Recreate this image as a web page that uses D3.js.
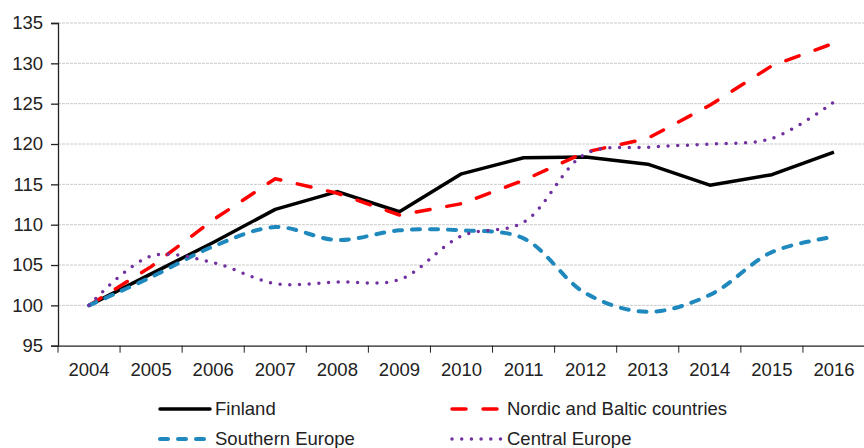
<!DOCTYPE html>
<html lang="en">
<head>
    <meta charset="UTF-8">
    <title>Index 2004 = 100</title>
    <script src="https://cdn.jsdelivr.net/npm/d3@7"></script>
    <style>
        body { margin: 0; background: #fff; }
        text { font-family: "Liberation Sans", Arial, sans-serif; fill: #222; }
    </style>
</head>
<body>

<script>
    var width = 864;
    var height = 448;

    // values, 2004 = 100
    var years = ["2004", "2005", "2006", "2007", "2008", "2009", "2010",
        "2011", "2012", "2013", "2014", "2015", "2016"];
    var finland = [100, 103.9, 107.8, 111.9, 114.1, 111.6, 116.3, 118.3, 118.4, 117.5, 114.9, 116.2, 119.0];
    var nordic = [100, 104.8, 110.6, 115.7, 113.9, 111.2, 112.6, 115.5, 119.0, 120.7, 124.8, 129.7, 132.5];
    var southern = [100, 103.5, 107.3, 109.7, 108.1, 109.3, 109.3, 108.3, 101.5, 99.2, 101.3, 106.6, 108.5];
    var central = [100, 106.1, 105.3, 102.7, 102.9, 103.2, 108.6, 110.3, 118.8, 119.6, 120.0, 120.7, 125.2];
    var yTicks = [95, 100, 105, 110, 115, 120, 125, 130, 135];

    var series = [
        {name: "Finland", values: finland, color: "#000000", width: 3.5, dash: null, smooth: false},
        {name: "Nordic and Baltic countries", values: nordic, color: "#ff0000", width: 3.5, dash: "14,17", smooth: false},
        {name: "Southern Europe", values: southern, color: "#1f88bd", width: 4, dash: "8,10", smooth: true},
        {name: "Central Europe", values: central, color: "#7030a0", width: 3.5, dash: "0,9.7", smooth: true}
    ];

    var svg = d3.select("body").append("svg")
            .attr("width", width)
            .attr("height", height);

    var x = d3.scaleBand().domain(years).range([58, 865]);
    var y = d3.scaleLinear().domain([95, 135]).range([345.7, 23]);

    // gridlines
    svg.append("g").selectAll("line")
            .data(yTicks.slice(1))
            .enter().append("line")
            .attr("x1", 58).attr("x2", width)
            .attr("y1", function (d) { return y(d); })
            .attr("y2", function (d) { return y(d); })
            .style("stroke", "#cacaca")
            .style("stroke-width", 1)
            .style("stroke-dasharray", "3,1");

    // y axis
    var yAxis = svg.append("g")
            .attr("transform", "translate(58,0)")
            .call(d3.axisLeft(y).tickValues(yTicks).tickSize(7).tickPadding(8));
    yAxis.selectAll("text").style("font-size", "18.5px");

    // x axis, ticks sit between the years
    var xAxis = svg.append("g")
            .attr("transform", "translate(0," + y(95) + ")")
            .call(d3.axisBottom(x).tickSize(0).tickPadding(17));
    xAxis.selectAll("text").style("font-size", "18.5px");
    xAxis.selectAll(".bound")
            .data(years)
            .enter().append("line")
            .attr("class", "bound")
            .attr("x1", function (d) { return x(d); })
            .attr("x2", function (d) { return x(d); })
            .attr("y1", 0).attr("y2", 7)
            .style("stroke", "#222");

    svg.selectAll(".domain, .tick line").style("stroke", "#222").style("stroke-width", 1.3);

    // series lines
    svg.append("g").selectAll("path")
            .data(series)
            .enter().append("path")
            .attr("d", function (s) {
                var line = d3.line()
                        .x(function (v, i) { return x(years[i]) + x.bandwidth() / 2; })
                        .y(function (v) { return y(v); })
                        .curve(s.smooth ? d3.curveCatmullRom.alpha(0.5) : d3.curveLinear);
                return line(s.values);
            })
            .style("fill", "none")
            .style("stroke", function (s) { return s.color; })
            .style("stroke-width", function (s) { return s.width; })
            .style("stroke-dasharray", function (s) { return s.dash; })
            .style("stroke-linecap", function (s) { return s.dash ? "round" : "butt"; })
            .style("stroke-linejoin", "round");

    // legend, two columns
    var legendPos = [[158, 409], [450, 409], [158, 439], [450, 439]];
    var legend = svg.append("g").selectAll("g")
            .data(series)
            .enter().append("g")
            .attr("transform", function (s, i) {
                return "translate(" + legendPos[i][0] + "," + legendPos[i][1] + ")";
            });
    legend.append("line")
            .attr("x1", 2).attr("x2", 52)
            .attr("y1", 0).attr("y2", 0)
            .style("stroke", function (s) { return s.color; })
            .style("stroke-width", function (s) { return s.width; })
            .style("stroke-dasharray", function (s) { return s.dash; })
            .style("stroke-linecap", "round");
    legend.append("text")
            .attr("x", 57)
            .attr("y", 6)
            .style("font-size", "18.5px")
            .text(function (s) { return s.name; });
</script>

</body>
</html>
